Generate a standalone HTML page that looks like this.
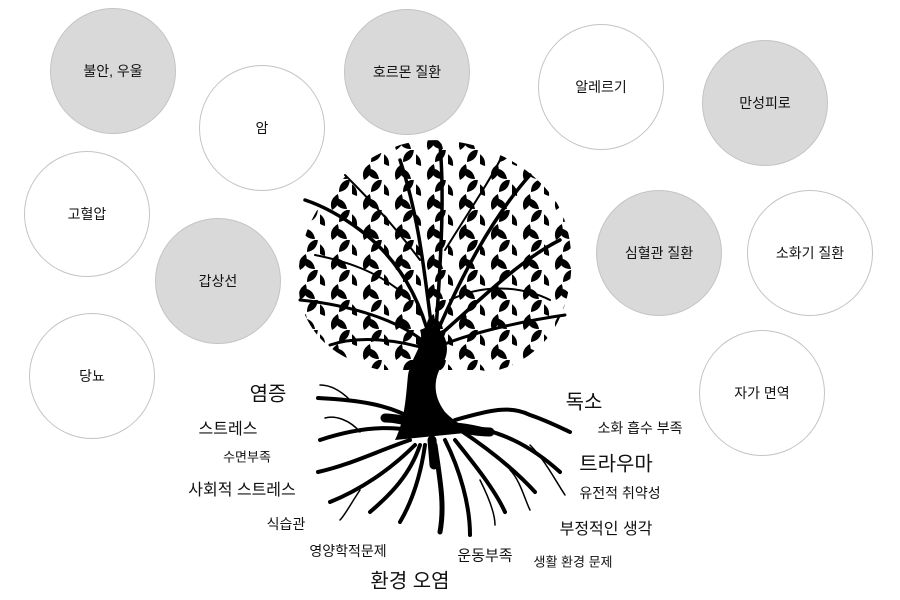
<!DOCTYPE html>
<html><head><meta charset="utf-8"><style>
body{margin:0;width:900px;height:600px;background:#fff;position:relative;overflow:hidden;font-family:"Liberation Sans","Noto Sans CJK KR",sans-serif;color:#111}
.c{position:absolute;width:126px;height:126px;border-radius:50%;border:1px solid #c4c4c4;background:#fff;display:flex;align-items:center;justify-content:center;font-size:14px;transform:translate(-50%,-50%);box-sizing:border-box}
.g{background:#d9d9d9}
.t{position:absolute;transform:translate(-50%,-50%);white-space:nowrap}
svg{position:absolute;left:0;top:0}
</style></head><body>
<div class="c g" style="left:113px;top:71px">불안, 우울</div>
<div class="c" style="left:262px;top:128px">암</div>
<div class="c g" style="left:407px;top:72px">호르몬 질환</div>
<div class="c" style="left:601px;top:87px">알레르기</div>
<div class="c g" style="left:765px;top:103px">만성피로</div>
<div class="c" style="left:87px;top:214px">고혈압</div>
<div class="c g" style="left:218px;top:281px">갑상선</div>
<div class="c g" style="left:659px;top:253px">심혈관 질환</div>
<div class="c" style="left:810px;top:253px">소화기 질환</div>
<div class="c" style="left:92px;top:376px">당뇨</div>
<div class="c" style="left:762px;top:393px">자가 면역</div>

<svg width="900" height="600" viewBox="0 0 900 600">
<defs>
<path id="l" d="M0,0 Q7,-8 0,-17 Q-7,-8 0,0Z"/>
<pattern id="p" width="32" height="30" patternUnits="userSpaceOnUse">
<use href="#l" transform="translate(5,16) rotate(-35)"/>
<use href="#l" transform="translate(19,12) rotate(40)"/>
<use href="#l" transform="translate(12,30) rotate(20)"/>
<use href="#l" transform="translate(27,29) rotate(-50)"/>
</pattern>
</defs>
<path d="M300,300 C290,230 330,170 400,145 C450,130 520,150 555,200 C580,240 575,300 550,335 C530,360 500,375 480,370 L380,370 C340,360 310,340 300,300Z" fill="url(#p)"/>
<g fill="none" stroke="#000" stroke-linecap="round">
<path d="M430,340 C420,300 400,260 360,230 C340,215 320,205 305,200" stroke-width="3.5"/>
<path d="M432,330 C425,280 420,220 400,160" stroke-width="3.5"/>
<path d="M436,330 C440,270 445,200 440,145" stroke-width="3.5"/>
<path d="M438,330 C460,280 490,220 530,175" stroke-width="3.5"/>
<path d="M440,335 C480,300 520,260 560,240" stroke-width="3.5"/>
<path d="M442,345 C480,330 530,320 565,315" stroke-width="3"/>
<path d="M428,345 C400,320 350,305 300,300" stroke-width="3"/>
<path d="M430,350 C400,340 360,335 330,345" stroke-width="3"/>
<path d="M420,260 C390,220 360,190 345,175" stroke-width="2"/>
<path d="M445,250 C470,210 490,180 500,160" stroke-width="2"/>
<path d="M450,300 C490,280 530,290 550,300" stroke-width="2"/>
<path d="M410,300 C380,270 340,260 315,255" stroke-width="2"/>
</g>
<path d="M432,325 C446,330 452,350 442,365 C434,378 432,395 445,412 C455,422 465,428 475,432 L395,440 C405,420 406,395 408,375 C412,355 425,345 420,330Z" fill="#000"/>
<g fill="none" stroke="#000" stroke-linecap="round">
<path d="M415,420 C390,405 360,400 318,398" stroke-width="4"/>
<path d="M410,430 C380,425 350,430 320,440" stroke-width="4"/>
<path d="M410,440 C380,450 350,465 318,472" stroke-width="4"/>
<path d="M415,445 C390,470 360,490 330,502" stroke-width="4"/>
<path d="M420,445 C410,475 390,495 370,512" stroke-width="4"/>
<path d="M425,445 C420,480 410,505 400,522" stroke-width="4"/>
<path d="M435,445 C440,480 445,505 440,532" stroke-width="5"/>
<path d="M445,440 C460,470 470,505 470,535" stroke-width="4"/>
<path d="M455,440 C475,465 495,490 505,512" stroke-width="4"/>
<path d="M460,430 C490,450 515,470 535,492" stroke-width="4"/>
<path d="M460,425 C500,430 530,445 560,472" stroke-width="4"/>
<path d="M455,420 C490,410 510,405 530,415 C545,420 555,425 570,432" stroke-width="4"/>
<path d="M350,400 C340,390 330,385 320,385" stroke-width="1.5"/>
<path d="M360,432 C350,420 335,415 325,418" stroke-width="1.5"/>
<path d="M510,470 C520,480 525,500 530,510" stroke-width="1.5"/>
<path d="M530,445 C545,460 555,480 565,495" stroke-width="1.5"/>
<path d="M360,490 C350,505 345,515 340,520" stroke-width="1.5"/>
<path d="M480,480 C490,500 495,515 495,525" stroke-width="1.5"/>
</g>
<g fill="none" stroke="#000" stroke-linecap="round" stroke-width="9">
<path d="M420,425 C405,420 395,418 385,418"/>
<path d="M450,425 C465,430 480,432 490,432"/>
<path d="M432,440 L434,465"/>
</g>
</svg>

<div class="t" style="left:268px;top:392px;font-size:20px">염증</div>
<div class="t" style="left:228px;top:427px;font-size:16px">스트레스</div>
<div class="t" style="left:247px;top:456px;font-size:13px">수면부족</div>
<div class="t" style="left:242px;top:488px;font-size:16px">사회적 스트레스</div>
<div class="t" style="left:286px;top:524px;font-size:14px">식습관</div>
<div class="t" style="left:348px;top:551px;font-size:14px">영양학적문제</div>
<div class="t" style="left:410px;top:579px;font-size:20px">환경 오염</div>
<div class="t" style="left:485px;top:555px;font-size:15px">운동부족</div>
<div class="t" style="left:573px;top:561px;font-size:13px">생활 환경 문제</div>
<div class="t" style="left:584px;top:400px;font-size:20px">독소</div>
<div class="t" style="left:640px;top:428px;font-size:14px">소화 흡수 부족</div>
<div class="t" style="left:616px;top:462px;font-size:20px">트라우마</div>
<div class="t" style="left:620px;top:493px;font-size:14px">유전적 취약성</div>
<div class="t" style="left:606px;top:527px;font-size:16px">부정적인 생각</div>
</body></html>
